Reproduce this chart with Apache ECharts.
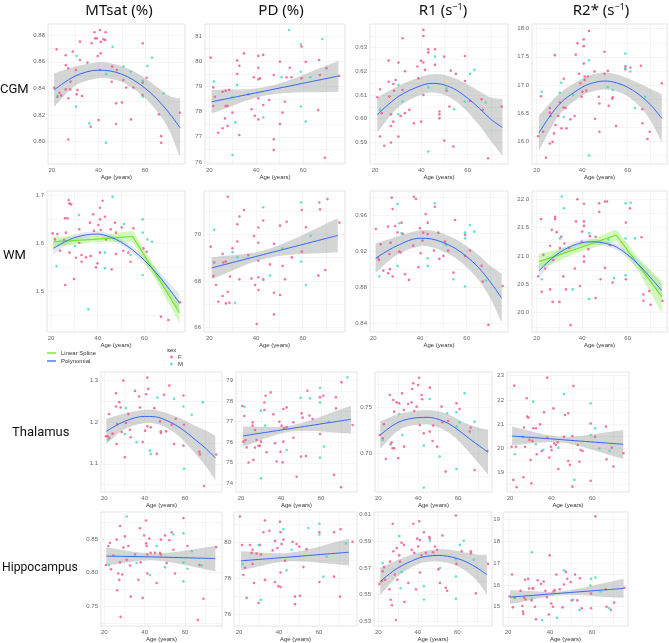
<!DOCTYPE html>
<html>
<head>
<meta charset="utf-8">
<script src="https://cdn.jsdelivr.net/npm/echarts@6/dist/echarts.min.js"></script>
<style>html,body{margin:0;padding:0;background:#fff}#c{width:669px;height:643px}</style>
</head>
<body>
<div id="c"></div>
<script>
// ---------------- DATA ----------------
const columns = ['MTsat (%)', 'PD (%)', 'R1 (s{sup|−1})', 'R2* (s{sup|−1})'];
const regions = ['CGM', 'WM', 'Thalamus', 'Hippocampus'];
const xTickLabels = ['20', '40', '60'];
const polyAges = [21, 30, 40, 45, 50, 55, 60, 65, 70, 75];
const linAges = [21, 45, 75];
const splineAges = [21, 38, 55, 65, 75];

// CGM MTsat
const cgmMtsatF = [[21,0.8405],[22.1,0.8694],[22.4,0.8337],[23.3,0.8367],[24,0.8347],[26,0.8574],[26,0.8649],[26,0.8392],[27.1,0.8551],[27.1,0.8325],[27.9,0.8392],[28.1,0.845],[27.1,0.8015],[29,0.8677],[30.4,0.8538],[31,0.8387],[30.7,0.8355],[32.1,0.8614],[32.1,0.8752],[33,0.8342],[35.3,0.8594],[37.1,0.874],[36.7,0.8111],[38.3,0.8823],[38.6,0.8777],[39.3,0.8777],[39.7,0.8644],[40.1,0.8161],[40.7,0.884],[41,0.875],[41,0.8664],[40.7,0.8538],[42.1,0.877],[43.1,0.8823],[42.9,0.8765],[45.9,0.8564],[45.7,0.845],[47.6,0.8287],[47.6,0.8131],[47.9,0.8538],[50.1,0.8294],[50.7,0.8463],[51.9,0.8407],[54,0.8166],[55,0.8407],[59,0.874],[59,0.8443],[58.9,0.835],[60.7,0.848],[65.9,0.8204],[66.9,0.804],[66.9,0.799],[75,0.8216]];
const cgmMtsatM = [[22.4,0.8342],[30.7,0.8644],[30.4,0.8262],[36.1,0.8136],[46.1,0.8714],[43.3,0.8508],[43.3,0.799],[50.7,0.8564],[53.9,0.8526],[59,0.8458],[59,0.8337],[61,0.8569],[63,0.8631],[67.9,0.8362]];
const cgmMtsatFit = [0.8387,0.8492,0.8537,0.8531,0.8507,0.8463,0.8401,0.8321,0.8221,0.8103];
const cgmMtsatHi = [0.8512,0.8564,0.8597,0.8589,0.8567,0.8529,0.8477,0.8413,0.8346,0.8323];
const cgmMtsatLo = [0.8262,0.842,0.8477,0.8473,0.8447,0.8397,0.8325,0.8229,0.8096,0.7883];
const cgmMtsatTicks = ['0.80','0.82','0.84','0.86','0.88'];

// CGM PD
const cgmPdF = [[20.6,80.14],[21.7,78.96],[21.7,78.22],[22.4,78.59],[23.8,77.16],[25.7,78.79],[25.7,77.34],[27,78.83],[27,78.22],[27.8,78.22],[27.8,77.43],[28.5,78.86],[26.7,77.73],[29.9,77.96],[31.9,80.03],[31.9,79.49],[32.8,79.82],[32.8,77.07],[34.8,80.31],[36.6,78.69],[38,78.09],[39,79.36],[39.4,77.83],[40.9,80.21],[40.9,79.74],[40.9,79.28],[40.9,78.53],[40.9,77.69],[41.6,79.32],[43,80.25],[43,78.26],[45.5,78.46],[47.5,79.45],[47.5,76.9],[47.5,76.48],[50.1,79.98],[50.1,77.51],[51.2,77.96],[52.2,78.39],[52.9,79.36],[54.3,79.74],[55,79.36],[59.3,80.58],[59.3,79.32],[61.1,79.98],[66.8,80.05],[66.4,78.06],[67.1,79.45],[69.2,76.17],[69.9,79.72],[75.3,79.41]];
const cgmPdM = [[22,79.19],[29.9,78.57],[31.1,77.57],[31.9,79.06],[29.9,76.28],[36.6,78.7],[43,77.77],[50.8,79.36],[54,81.24],[59,80.67],[59,79.58],[59,78.2],[61.1,77.6],[63.1,79.36],[68.1,80.88]];
const cgmPdFit = [78.39,78.84,79.41];
const cgmPdHi = [78.86,79.0,80.01];
const cgmPdLo = [77.93,78.66,78.79];
const cgmPdTicks = ['76','77','78','79','80','81'];

// CGM R1
const cgmR1F = [[21,0.609],[22.2,0.6124],[22.2,0.5924],[22.9,0.6023],[24,0.5885],[25.9,0.6245],[25.9,0.6156],[26.2,0.6093],[26.9,0.6018],[26.9,0.5969],[26.9,0.5899],[27.9,0.6146],[28.2,0.6118],[27.9,0.5987],[28.9,0.6163],[30.1,0.6237],[30.1,0.5924],[31.1,0.6011],[31.9,0.634],[31.9,0.6121],[32.9,0.62],[32.9,0.6023],[34.8,0.6037],[36.8,0.598],[38.3,0.622],[38.7,0.617],[39.9,0.6244],[39.9,0.5987],[40.9,0.6375],[40.9,0.6349],[40.9,0.6237],[40.9,0.61],[41.6,0.6206],[43,0.6293],[43,0.628],[45.9,0.6293],[45.9,0.6227],[47.8,0.603],[47.8,0.6018],[47.8,0.6001],[49.9,0.6262],[49.9,0.5907],[50.9,0.6118],[52.1,0.6051],[52.7,0.6203],[53.8,0.5882],[54.9,0.6189],[58.8,0.6265],[58.8,0.6159],[61,0.6075],[66,0.6082],[66.5,0.6037],[68.8,0.5832],[74.7,0.6051]];
const cgmR1M = [[22.2,0.6037],[30.1,0.6142],[31.9,0.6072],[30.1,0.6018],[43,0.6132],[43,0.5861],[45.9,0.6262],[50.9,0.6128],[54.1,0.6039],[58.8,0.6072],[61,0.6189],[62.9,0.6206],[67.8,0.6068]];
const cgmR1Fit = [0.6016,0.6093,0.614,0.6149,0.6142,0.6121,0.6086,0.6044,0.5997,0.5963];
const cgmR1Hi = [0.6089,0.6138,0.6178,0.6188,0.6184,0.6169,0.6144,0.6116,0.6089,0.6083];
const cgmR1Lo = [0.5943,0.6048,0.6102,0.611,0.61,0.6073,0.6028,0.5972,0.5905,0.5843];
const cgmR1Ticks = ['0.59','0.60','0.61','0.62','0.63'];

// CGM R2*
const cgmR2F = [[20.7,16.09],[21.9,16.8],[22.9,16.17],[24.1,15.71],[25.8,16.59],[25.8,16.51],[26.1,16.45],[25.8,15.96],[27,15.99],[27.6,16.14],[28,17.53],[28.3,16.29],[29.5,16.45],[30.2,16.69],[30.9,16.23],[31.9,16.6],[31.9,17.11],[32.7,16.59],[33.1,16.23],[34.8,16.39],[36.7,16.45],[37.2,17.54],[37.9,17.74],[38.6,17.2],[39.2,17.03],[39.8,16.79],[40.1,16.88],[40.7,17.81],[40.7,17.69],[40.7,17.38],[41.1,17.15],[41.1,17.09],[41.8,16.9],[42.5,17.15],[43,17.96],[45.5,17.24],[45.7,16.4],[47.3,16.79],[47.6,16.67],[47.6,16.17],[49.8,17.59],[49.8,17.2],[51.3,17.25],[51.7,16.63],[53.2,16.76],[53.5,16.78],[54.9,16.27],[59,17.33],[59,17.28],[61.2,17.31],[65.8,17.34],[66.5,16.57],[66.5,16.32],[68.7,16.04],[69.7,16.17],[75,17.03]];
const cgmR2M = [[22.2,16.88],[30.2,16.86],[30.8,17.04],[31.9,16.43],[36,16.82],[43,17.44],[43,15.75],[51.3,16.96],[53.5,16.91],[59,17.56],[59,17.3],[61.2,17.24],[63.2,16.59],[67.7,16.79]];
const cgmR2Fit = [16.15,16.66,16.96,17.04,17.07,17.04,16.96,16.83,16.65,16.41];
const cgmR2Hi = [16.46,16.85,17.11,17.19,17.22,17.19,17.12,17.03,16.93,16.84];
const cgmR2Lo = [15.84,16.47,16.81,16.89,16.92,16.89,16.8,16.63,16.37,15.98];
const cgmR2Ticks = ['16.0','16.5','17.0','17.5','18.0'];

// WM MTsat
const wmMtsatF = [[20.7,1.6215],[21.7,1.609],[22.7,1.62],[23.9,1.5854],[25.6,1.6076],[26,1.6528],[26.1,1.5139],[26.4,1.623],[27.1,1.6528],[27.6,1.691],[27.9,1.684],[28.6,1.682],[27.9,1.5813],[29.9,1.5264],[30.7,1.5708],[32.1,1.6299],[32.1,1.602],[33.1,1.5625],[33.1,1.5764],[35,1.5715],[36.7,1.6438],[37,1.5743],[38.1,1.6611],[38.4,1.6271],[39.3,1.5507],[39.9,1.559],[40.3,1.6389],[41,1.675],[41,1.6507],[41,1.5813],[41.3,1.6285],[42.1,1.6896],[43.1,1.6563],[43.6,1.609],[45.6,1.6299],[46,1.5465],[47.4,1.6438],[47.9,1.5785],[47.9,1.623],[50.3,1.634],[51,1.5854],[53.1,1.5813],[54.1,1.5625],[55.3,1.632],[59.6,1.5903],[61,1.5833],[67.1,1.4479],[70.3,1.441],[75.3,1.4778]];
const wmMtsatM = [[22.4,1.5535],[30.3,1.5951],[32,1.6597],[36,1.4632],[43.1,1.5813],[43.1,1.5486],[46.4,1.6979],[51.3,1.641],[54.1,1.5764],[59.3,1.6507],[59.3,1.623],[59.3,1.5347],[61.3,1.609],[63.3,1.6042]];
const wmMtsatFit = [1.5903,1.6125,1.6201,1.6145,1.6035,1.5868,1.5655,1.5395,1.5095,1.4771];
const wmMtsatHi = [1.6023,1.6195,1.6261,1.6205,1.6095,1.5938,1.5735,1.5495,1.5225,1.4951];
const wmMtsatLo = [1.5783,1.6055,1.6141,1.6085,1.5975,1.5798,1.5575,1.5295,1.4965,1.4591];
const wmMtsatSpline = [1.604,1.609,1.615,1.536,1.456];
const wmMtsatSplineHi = [1.615,1.615,1.627,1.548,1.477];
const wmMtsatSplineLo = [1.593,1.603,1.603,1.524,1.435];
const wmMtsatTicks = ['1.5','1.6','1.7'];

// WM PD
const wmPdF = [[20.6,69.47],[21.7,68.21],[22.1,68.79],[22.9,67.83],[23.9,67.11],[25.7,69.16],[25.7,67.36],[26,68.79],[27,68.83],[27.1,67.04],[27.9,71.61],[27.9,67.54],[28.6,67.07],[28.9,68.19],[29.9,69.4],[32,70.43],[32,69.69],[32.9,70.76],[32.9,68.07],[34.9,71.04],[36.7,69.11],[38.1,68.11],[39.1,69.93],[39.6,67.83],[40.3,66.16],[41,70.29],[41,69.64],[41,68.87],[41,68.16],[41.1,67.61],[43.1,70.59],[43.1,68.07],[46,68.71],[47.7,69.59],[47.7,67.5],[47.7,66.57],[50.3,70.37],[50.3,67.4],[51.4,68.64],[52.4,68.07],[53.1,70.54],[55.3,69.01],[59.6,71.04],[59.6,69.26],[61.4,70.3],[66.7,68.23],[67.1,71.36],[67.4,71.07],[69.6,68.47],[70.6,71.51],[75.7,70.5]];
const wmPdM = [[22.1,70.19],[30,69.23],[31,67.07],[32,69.01],[43.1,71.16],[43.1,68.04],[46,68.23],[51.4,69.4],[59.3,71.36],[59.3,68.83],[61.4,67.83],[63.4,69.93]];
const wmPdFit = [68.56,69.18,69.95];
const wmPdHi = [69.01,69.36,70.69];
const wmPdLo = [68.08,68.99,69.23];
const wmPdTicks = ['66','68','70'];

// WM R1
const wmR1F = [[21.1,0.9445],[22.1,0.912],[22.4,0.9101],[23.1,0.9275],[24.3,0.8983],[26.4,0.8954],[26.4,0.9471],[26.9,0.9168],[27.1,0.8999],[27.4,0.9293],[27.9,0.9792],[28.3,0.9666],[28.3,0.8917],[29.3,0.9478],[30.4,0.9408],[31.1,0.9194],[31.7,0.9183],[32.1,0.9515],[32.6,0.939],[33.6,0.8943],[35.3,0.888],[37.1,0.926],[37.4,0.9803],[38.3,0.9777],[39.3,0.902],[40,0.9452],[40.3,0.9175],[41.1,0.9316],[41.4,0.9404],[42.4,0.9611],[43.3,0.9389],[43.3,0.9515],[46,0.9205],[46.4,0.9692],[47.9,0.9404],[48.3,0.9113],[50,0.9146],[50.7,0.9305],[52.1,0.9205],[54.3,0.8961],[55,0.9545],[59.3,0.9378],[59.3,0.9146],[61.4,0.9205],[66.4,0.9035],[66.9,0.8861],[69.3,0.8381],[75.4,0.8813]];
const wmR1M = [[22.6,0.8917],[30.4,0.9722],[31.1,0.9508],[32.1,0.9397],[30.4,0.9035],[43.3,0.912],[43.3,0.9035],[46.4,0.9729],[51.1,0.9268],[54.3,0.8887],[59.3,0.9404],[59.3,0.9341],[59.3,0.8806],[61.4,0.9489],[63.3,0.9415],[68.3,0.8873]];
const wmR1Fit = [0.912,0.9257,0.9342,0.9334,0.9293,0.9231,0.9138,0.902,0.8861,0.8677];
const wmR1Hi = [0.9283,0.9359,0.943,0.9426,0.9391,0.9337,0.9256,0.9158,0.9039,0.8947];
const wmR1Lo = [0.8957,0.9155,0.9254,0.9242,0.9195,0.9125,0.902,0.8882,0.8683,0.8407];
const wmR1Ticks = ['0.84','0.88','0.92','0.96'];

// WM R2*
const wmR2F = [[20.7,20.64],[21.9,21.65],[22.2,20.37],[22.9,21.02],[23.7,20.78],[25.9,21.18],[25.9,20.41],[26.6,21.46],[27,20.19],[27.3,20.93],[28.1,21.65],[28.1,21.69],[28.8,21.42],[30,20.19],[30.2,21.14],[30.8,21.34],[31.7,20.64],[32.2,21.22],[32.9,20.41],[34.3,21.14],[34.9,19.78],[36.8,20.78],[37.3,21.61],[37.9,22.0],[39,20.47],[39.8,21.25],[40,21.43],[40.8,21.53],[40.8,21.61],[40.8,20.99],[40.8,20.9],[40.8,21.92],[42.7,21.12],[43.4,21.35],[45.9,21.34],[45.9,20.26],[47.5,21.93],[47.5,21.78],[48.1,20.59],[50,21.96],[51,21.96],[50,20.79],[52.2,21.19],[53.4,20.53],[59.2,21.59],[59.2,20.59],[61,21.84],[66.1,21.33],[66.9,20.32],[66.9,20.21],[70.1,20.14],[69.5,20.38],[75.3,20.21]];
const wmR2M = [[22.2,20.59],[30.2,21.31],[31,22.05],[32,21.84],[35.8,20.41],[43.1,20.24],[43.1,21.4],[51.5,21.29],[54,20.61],[59.1,21.93],[59.1,21.31],[59.1,20.66],[61.3,21.94],[63.2,21.31]];
const wmR2Fit = [20.74,21.06,21.235,21.25,21.225,21.16,21.02,20.84,20.62,20.39];
const wmR2Hi = [20.85,21.12,21.285,21.3,21.275,21.215,21.085,20.92,20.72,20.52];
const wmR2Lo = [20.63,21.0,21.185,21.2,21.175,21.105,20.955,20.76,20.52,20.26];
const wmR2Spline = [20.9,21.13,21.37,20.83,20.28];
const wmR2SplineHi = [21.04,21.2,21.47,20.95,20.56];
const wmR2SplineLo = [20.76,21.06,21.27,20.71,20.0];
const wmR2Ticks = ['20.0','20.5','21.0','21.5','22.0'];

// Thalamus MTsat
const thMtsatF = [[20.8,1.1659],[21.7,1.1659],[22.3,1.219],[22.5,1.1619],[24.1,1.1722],[25.8,1.269],[25.8,1.2373],[26.1,1.1476],[26.4,1.1952],[27.4,1.2476],[28.1,1.2349],[28.6,1.1762],[29.4,1.2992],[30.2,1.1159],[30.7,1.1976],[31.9,1.219],[32.7,1.1817],[33.1,1.1635],[35.2,1.2746],[37.2,1.2611],[37.7,1.2349],[39,1.1524],[40.2,1.1794],[40.7,1.2667],[41.3,1.3063],[41.3,1.1897],[41.8,1.2794],[43,1.1873],[44.8,1.2333],[46,1.1238],[47.6,1.2016],[48,1.1738],[48,1.1778],[49.6,1.2651],[50.6,1.1778],[52.2,1.2873],[53.4,1.1937],[54.5,1.1476],[55.4,1.2079],[59.2,1.2635],[59.2,1.1437],[59.5,1.1937],[67.1,1.1286],[67.4,1.1222],[69.4,1.0468],[75.4,1.1222]];
const thMtsatM = [[22,1.158],[30.7,1.2333],[30.2,1.1714],[36,1.1516],[42.6,1.1317],[43,1.1238],[46.3,1.2587],[54.5,1.2556],[59.2,1.2373],[59.5,1.0881],[63.3,1.2175],[68.8,1.2476]];
const thMtsatFit = [1.1778,1.2016,1.2135,1.2127,1.2056,1.1937,1.1778,1.1579,1.1381,1.1143];
const thMtsatHi = [1.2078,1.2206,1.2295,1.2287,1.2226,1.2137,1.2038,1.1909,1.1801,1.1673];
const thMtsatLo = [1.1478,1.1826,1.1975,1.1967,1.1886,1.1737,1.1518,1.1249,1.0961,1.0613];
const thMtsatTicks = ['1.1','1.2','1.3'];

// Thalamus PD
const thPdF = [[20.7,77.77],[21.7,77.28],[21.2,76.03],[22.3,76.11],[22.8,75.75],[23.8,75.01],[25.8,76.97],[25.8,76.81],[26.2,75.14],[27,75.74],[27,76.6],[27.8,76.11],[28.7,75.83],[29.5,75.83],[30,76.03],[31.7,77.94],[31.7,77.57],[32.3,78.27],[32.8,75.51],[34.8,78.43],[36.2,77.36],[37,75.95],[37.8,75.06],[39.2,77],[39.8,75.54],[40.3,76.81],[40.8,75.02],[41.2,77.62],[41.2,76.03],[41.5,76.68],[42.8,77.7],[42.8,76.73],[46.2,76.22],[46.2,76.97],[47.8,74.32],[50.3,77.41],[50,75.3],[50.8,77.2],[52.5,75.33],[53.2,78.51],[54.2,77.3],[55.8,77.13],[59.5,78.19],[59.5,76.4],[61.2,78.27],[66.5,74.41],[67.5,78.19],[67.5,77.65],[70,73.81],[70.3,78.92],[75.8,76.84]];
const thPdM = [[21.7,77.73],[30,77.54],[30,74.24],[32,76.81],[42.8,75.62],[49.8,78.17],[54.5,78.14],[59.5,78.66],[59.5,77.94],[59.5,75.25],[61.5,75.79],[63.8,77],[73.2,79.16]];
const thPdFit = [76.31,76.67,77.12];
const thPdHi = [76.76,76.82,77.78];
const thPdLo = [75.79,76.52,76.43];
const thPdTicks = ['74','75','76','77','78','79'];

// Thalamus R1
const thR1F = [[20.8,0.7199],[22.2,0.7163],[22.8,0.7315],[23.8,0.6938],[25.8,0.7634],[26.2,0.7098],[26.7,0.712],[27.2,0.7054],[27.5,0.758],[28,0.7453],[28,0.7054],[29.2,0.7554],[30,0.6946],[30.5,0.7543],[32,0.7652],[32.8,0.7471],[33,0.7072],[35,0.7536],[36.7,0.7554],[37,0.7699],[37.5,0.7761],[38,0.746],[39.2,0.7507],[40,0.7743],[40.5,0.7822],[40.8,0.7308],[41.7,0.7634],[42,0.7587],[42.8,0.7217],[45.8,0.7714],[45.8,0.7236],[47.2,0.7134],[47.5,0.7301],[49.5,0.7072],[51.7,0.7507],[52.2,0.7337],[53.8,0.6801],[55,0.7351],[59.2,0.7543],[60.8,0.7482],[65.8,0.7236],[66.3,0.7279],[68.3,0.6819],[74.7,0.7025]];
const thR1M = [[22.2,0.7145],[30.5,0.7428],[32,0.7199],[42.8,0.7083],[42.8,0.6627],[45.8,0.7591],[50.8,0.6964],[54.5,0.7435],[59.2,0.7446],[59.2,0.729],[59.2,0.683],[60.8,0.7337],[63.3,0.7652],[68.3,0.7344]];
const thR1Fit = [0.7199,0.7337,0.7388,0.7391,0.737,0.7326,0.7254,0.717,0.709,0.7011];
const thR1Hi = [0.7349,0.7425,0.7464,0.7469,0.7458,0.7424,0.7368,0.7315,0.728,0.7256];
const thR1Lo = [0.7049,0.7249,0.7312,0.7313,0.7282,0.7228,0.714,0.7025,0.69,0.6766];
const thR1Ticks = ['0.70','0.75'];

// Thalamus R2*
const thR2F = [[20.8,20.07],[21.6,18.7],[22.1,22.59],[22.9,20.07],[23.2,18.4],[26.2,20.48],[26.5,18.81],[26.8,20.86],[27.3,20.07],[28.1,22.07],[28.4,21.31],[28.9,21.27],[29.4,20.35],[30,19.52],[30.4,18.56],[30.9,20.31],[31.3,20.83],[32.6,20.83],[33,19.76],[34.6,20.99],[35.4,19.89],[36.5,21.49],[38.1,22.92],[38.1,20.44],[39.1,19.62],[39.9,20.07],[40.2,19.93],[41.1,21.65],[41.5,20.21],[42.3,20.14],[43.2,20.25],[43.5,19.15],[46.2,20.48],[46.7,21.38],[48.3,21.45],[48.3,19.48],[49.1,19.32],[50.3,20.51],[50.8,22.57],[50.3,18.42],[52.9,20.14],[53.7,19.45],[54.3,19.93],[55.3,19.89],[59.2,21.03],[59.2,18.66],[61.3,20.48],[66.6,20.9],[66.9,19.55],[69.4,20.03],[70.2,19.25],[75.1,19.8]];
const thR2M = [[22.4,19.76],[31.3,21.93],[32.5,20.17],[36.2,19.93],[43.5,20.03],[46.2,22.24],[51.3,18.7],[59.2,21.86],[59.2,20.55],[61.3,20.83],[63.4,20],[68.3,19.89]];
const thR2Fit = [20.51,20.36,20.17];
const thR2Hi = [20.9,20.48,20.76];
const thR2Lo = [20.14,20.24,19.56];
const thR2Ticks = ['19','20','21','22','23'];

// Hippocampus MTsat
const hpMtsatF = [[20.8,0.8116],[22,0.84],[22.8,0.8448],[23.3,0.805],[24.5,0.8258],[26.1,0.8495],[26.4,0.7737],[26.9,0.7988],[27.4,0.7893],[27.8,0.8699],[27.8,0.8154],[28.1,0.7339],[28.9,0.7974],[29.4,0.8377],[30.2,0.8543],[31.1,0.8192],[31.9,0.84],[32.7,0.8107],[33.1,0.7642],[35.2,0.8273],[36.9,0.7893],[37.7,0.8666],[38,0.8154],[39,0.7623],[39.7,0.8557],[40.7,0.878],[40.7,0.8438],[41,0.84],[41.3,0.8273],[41.3,0.7988],[42.3,0.8509],[43,0.8296],[45.1,0.8296],[45.9,0.7846],[47.6,0.8296],[48,0.8495],[48,0.8273],[50.1,0.8557],[50.9,0.8145],[52.2,0.8486],[53.4,0.8604],[54.2,0.8344],[55,0.7988],[59.2,0.8818],[61.2,0.84],[67.1,0.8116],[66.3,0.7291],[69.1,0.7609],[75.4,0.8382]];
const hpMtsatM = [[22.3,0.8116],[31.1,0.8841],[36,0.8145],[42.6,0.7964],[45.9,0.84],[50.1,0.8083],[54.2,0.8571],[59.2,0.859],[59.2,0.8154],[59.2,0.787],[61.2,0.8059],[63.3,0.832],[68.3,0.8107]];
const hpMtsatFit = [0.8249,0.8235,0.8211];
const hpMtsatHi = [0.8377,0.8288,0.84];
const hpMtsatLo = [0.8107,0.8183,0.8021];
const hpMtsatTicks = ['0.75','0.80','0.85'];

// Hippocampus PD
const hpPdF = [[20.5,81.43],[21.5,79.84],[22.2,78.17],[23,78.57],[23.8,76.9],[25.5,79.84],[26.3,79.4],[26.8,79.58],[26.8,78.78],[27.5,77.73],[28.8,79.37],[29.8,76.62],[30.5,79.84],[31,79.31],[32.2,80.55],[33,77.9],[33,81.2],[35.2,80.63],[36.8,79.54],[38,80.07],[38,77.78],[39.2,79.67],[39.7,77.55],[40.5,81.13],[40.8,80.55],[40.8,78.31],[40.8,77.5],[41.3,79.89],[42.2,80.14],[43,78.96],[46.8,80.02],[48,76.97],[48,76.55],[48.8,79.89],[50.2,79.75],[50.5,77.02],[52.2,78.61],[53.8,79.61],[60.2,80.55],[60.2,77.78],[67.5,80.55],[67.5,78.08],[70.8,80.72],[70.5,76.97],[76.8,80.02]];
const hpPdM = [[21.7,78.78],[29.8,79.84],[31,76.79],[42.2,80.72],[43.8,78.43],[46.3,79.58],[54.7,80.78],[60.2,81.02],[60.2,80.42],[62.2,78.08],[63.8,79.19],[73.5,79.93]];
const hpPdFit = [78.96,79.17,79.44];
const hpPdHi = [79.49,79.41,80.19];
const hpPdLo = [78.43,78.93,78.7];
const hpPdTicks = ['76','78','80'];

// Hippocampus R1
const hpR1F = [[20.5,0.5581],[21.7,0.56],[22.2,0.5676],[22.9,0.5707],[23.4,0.5612],[25.6,0.554],[25.9,0.5748],[26.2,0.5462],[26.9,0.5421],[27.3,0.6033],[27.6,0.5826],[28.4,0.5652],[28.9,0.531],[29.3,0.585],[29.6,0.5612],[30.6,0.5795],[31,0.5748],[31.8,0.589],[33,0.5874],[33.2,0.5445],[35.2,0.5588],[36.9,0.5838],[37.7,0.6033],[38.2,0.5814],[39.1,0.554],[39.7,0.5921],[40.2,0.5862],[40.7,0.6052],[41.1,0.591],[41.1,0.5667],[41.9,0.5795],[43.1,0.5969],[44.1,0.5814],[45.8,0.5933],[46.1,0.5921],[47.8,0.5819],[48.7,0.5862],[49.8,0.5838],[50.4,0.569],[51.2,0.5588],[52.5,0.5945],[54.2,0.5552],[54.9,0.5529],[59.3,0.6095],[59.6,0.5731],[62.2,0.5826],[66.9,0.5812],[66.9,0.5826],[69.4,0.551],[75.6,0.5731]];
const hpR1M = [[22.2,0.5738],[30.6,0.594],[31.3,0.5548],[31.8,0.5671],[43.1,0.5564],[43.1,0.5464],[46.1,0.5905],[51.2,0.57],[59.3,0.5767],[59.3,0.5636],[59.3,0.5469],[61.3,0.5874],[63.3,0.5905],[68.4,0.5762]];
const hpR1Fit = [0.56,0.5702,0.5772,0.5789,0.5795,0.5789,0.5772,0.5743,0.5702,0.565];
const hpR1Hi = [0.5702,0.5762,0.5815,0.5832,0.5841,0.5839,0.5829,0.5815,0.58,0.5798];
const hpR1Lo = [0.5498,0.5642,0.5729,0.5746,0.5749,0.5739,0.5715,0.5671,0.5604,0.5502];
const hpR1Ticks = ['0.53','0.55','0.57','0.59','0.61'];

// Hippocampus R2*
const hpR2F = [[20.8,15.47],[21.9,16.48],[22.3,14.97],[23.2,15.41],[26,15.73],[26.8,15.03],[27.1,14.78],[27.3,14.67],[27.6,15.41],[28.1,16.24],[28.4,15.33],[29.6,16.28],[30,15.84],[31.2,15.29],[31.7,15.84],[32.1,15.84],[32.8,15.0],[33.3,14.42],[34.1,16.21],[35.7,16.05],[37,16.16],[37.8,15.73],[38.5,15.44],[39.4,14.64],[39.8,17.36],[40.6,15.15],[41.4,15.0],[41.7,15.7],[42.2,15.76],[43,16.48],[44.6,15.8],[45.9,14.97],[46.6,16.02],[47.5,16.6],[48.2,16.28],[49.8,16.13],[50.3,15.29],[51.9,16.48],[53,15.29],[54.3,16.31],[55.1,14.93],[59.5,14.93],[59.5,15.61],[61.6,19.15],[66.5,15.8],[66.9,15.0],[68.9,14.85],[70.5,15.19],[75.4,15.87]];
const hpR2M = [[23.2,15.44],[31.3,17.5],[31.3,15.36],[36.2,14.39],[43.3,14.49],[46.6,16.67],[51.1,15.32],[54,14.85],[59.5,16.28],[59.2,15.97],[61.6,16.34],[64,15.7],[68.1,14.93]];
const hpR2Fit = [15.44,15.62,15.84];
const hpR2Hi = [15.77,15.71,16.28];
const hpR2Lo = [15.12,15.53,15.41];
const hpR2Ticks = ['15','16','17','18','19'];

// ---------------- LAYOUT ----------------
const panels = [
  {F:cgmMtsatF,M:cgmMtsatM,xs:polyAges,fit:cgmMtsatFit,hi:cgmMtsatHi,lo:cgmMtsatLo,ticks:cgmMtsatTicks,g:[48,24,137,140],x:[18.4,77.1],y:[0.783,0.8885]},
  {F:cgmPdF,M:cgmPdM,xs:linAges,fit:cgmPdFit,hi:cgmPdHi,lo:cgmPdLo,ticks:cgmPdTicks,g:[205,24,140,140],x:[18.2,77.8],y:[75.92,81.476]},
  {F:cgmR1F,M:cgmR1M,xs:polyAges,fit:cgmR1Fit,hi:cgmR1Hi,lo:cgmR1Lo,ticks:cgmR1Ticks,g:[370,24,138,140],x:[17.84,77.4],y:[0.5808,0.64]},
  {F:cgmR2F,M:cgmR2M,xs:polyAges,fit:cgmR2Fit,hi:cgmR2Hi,lo:cgmR2Lo,ticks:cgmR2Ticks,g:[532,24,135,140],x:[17.95,77.3],y:[15.597,18.083]},
  {F:wmMtsatF,M:wmMtsatM,xs:polyAges,fit:wmMtsatFit,hi:wmMtsatHi,lo:wmMtsatLo,ticks:wmMtsatTicks,g:[47,191,138,141],x:[18.29,77.4],y:[1.416,1.7098],
    spline:{fit:wmMtsatSpline,hi:wmMtsatSplineHi,lo:wmMtsatSplineLo}},
  {F:wmPdF,M:wmPdM,xs:linAges,fit:wmPdFit,hi:wmPdHi,lo:wmPdLo,ticks:wmPdTicks,g:[204,191,141,141],x:[17.73,78.1],y:[65.816,71.854]},
  {F:wmR1F,M:wmR1M,xs:polyAges,fit:wmR1Fit,hi:wmR1Hi,lo:wmR1Lo,ticks:wmR1Ticks,g:[370,191,138,141],x:[18.59,77.7],y:[0.8302,0.9866]},
  {F:wmR2F,M:wmR2M,xs:polyAges,fit:wmR2Fit,hi:wmR2Hi,lo:wmR2Lo,ticks:wmR2Ticks,g:[532,191,135,141],x:[17.93,77.3],y:[19.659,22.146],
    spline:{fit:wmR2Spline,hi:wmR2SplineHi,lo:wmR2SplineLo}},
  {F:thMtsatF,M:thMtsatM,xs:polyAges,fit:thMtsatFit,hi:thMtsatHi,lo:thMtsatLo,ticks:thMtsatTicks,g:[101,372,121,120],x:[18.36,78.3],y:[1.0326,1.3198]},
  {F:thPdF,M:thPdM,xs:linAges,fit:thPdFit,hi:thPdHi,lo:thPdLo,ticks:thPdTicks,g:[236,372,121,120],x:[17.5,78],y:[73.576,79.424]},
  {F:thR1F,M:thR1M,xs:polyAges,fit:thR1Fit,hi:thR1Hi,lo:thR1Lo,ticks:thR1Ticks,g:[375,372,117,120],x:[18.35,77],y:[0.6579,0.7884]},
  {F:thR2F,M:thR2M,xs:linAges,fit:thR2Fit,hi:thR2Hi,lo:thR2Lo,ticks:thR2Ticks,g:[507,372,122,120],x:[18.54,77.8],y:[18.2,23.153]},
  {F:hpMtsatF,M:hpMtsatM,xs:linAges,fit:hpMtsatFit,hi:hpMtsatHi,lo:hpMtsatLo,ticks:hpMtsatTicks,g:[101,512,121,120],x:[18.36,78.3],y:[0.7201,0.8908]},
  {F:hpPdF,M:hpPdM,xs:linAges,fit:hpPdFit,hi:hpPdHi,lo:hpPdLo,ticks:hpPdTicks,g:[234,512,123,120],x:[17.5,79],y:[75.328,81.677]},
  {F:hpR1F,M:hpR1M,xs:polyAges,fit:hpR1Fit,hi:hpR1Hi,lo:hpR1Lo,ticks:hpR1Ticks,g:[374,512,118,120],x:[17.8,77.6],y:[0.5264,0.6121]},
  {F:hpR2F,M:hpR2M,xs:linAges,fit:hpR2Fit,hi:hpR2Hi,lo:hpR2Lo,ticks:hpR2Ticks,g:[503,512,125,120],x:[17.6,77.1],y:[14.11,19.35]}
];

const PINK = '#f3528a', CYAN = '#3ddbbf', BLUE = '#3366ff', GREEN = '#6be61f';
const GRAYBAND = 'rgba(150,158,156,0.42)', GREENBAND = 'rgba(130,235,70,0.35)', BLUEBAND = 'rgba(150,170,205,0.28)';
const AXFONT = 'Liberation Sans';

// smooth path (cubic Hermite in x) through pixel points produced by the axes
function curveSeg(pts, smooth) {
  let d = '';
  const n = pts.length;
  if (!smooth) { for (let k = 1; k < n; k++) d += ' L' + pts[k][0] + ',' + pts[k][1]; return d; }
  const s = pts.map((p, k) => { const a = pts[Math.max(k - 1, 0)], b = pts[Math.min(k + 1, n - 1)]; return (b[1] - a[1]) / (b[0] - a[0]); });
  for (let k = 0; k < n - 1; k++) {
    const p1 = pts[k], p2 = pts[k + 1], dx = p2[0] - p1[0];
    d += ' C' + (p1[0] + dx / 3) + ',' + (p1[1] + s[k] * dx / 3) + ' ' + (p2[0] - dx / 3) + ',' + (p2[1] - s[k + 1] * dx / 3) + ' ' + p2[0] + ',' + p2[1];
  }
  return d;
}

const grids = [], xAxes = [], yAxes = [], series = [];
panels.forEach((p, i) => {
  grids.push({left:p.g[0], top:p.g[1], width:p.g[2], height:p.g[3], show:true, borderColor:'#dedede', borderWidth:0.8, backgroundColor:'#fff'});
  const xMinor = [20,30,40,50,60,70];
  xAxes.push({type:'value', gridIndex:i, min:p.x[0], max:p.x[1], name:'Age (years)', nameLocation:'middle', nameGap:8,
    nameTextStyle:{fontSize:6, color:'#333', fontFamily:AXFONT},
    axisLine:{show:false}, axisTick:{show:false, customValues:xMinor},
    axisLabel:{customValues:xTickLabels.map(Number), fontSize:6, color:'#666', margin:3, fontFamily:AXFONT},
    splitLine:{show:true, lineStyle:{color:'#efefef', width:0.6}}});
  const tv = p.ticks.map(Number);
  const step = tv.length > 1 ? tv[1]-tv[0] : 0.05;
  const dec = (p.ticks[0].split('.')[1] || '').length;
  const yGrid = [];
  for (let k = -1; k < tv.length; k++) { const b = tv[0] + k*step; yGrid.push(+b.toFixed(6)); yGrid.push(+(b+step/2).toFixed(6)); }
  yAxes.push({type:'value', gridIndex:i, min:p.y[0], max:p.y[1],
    axisLine:{show:false}, axisTick:{show:false, customValues:yGrid},
    axisLabel:{customValues:tv, fontSize:6, color:'#666', margin:3, fontFamily:AXFONT, formatter:v=>v.toFixed(dec)},
    splitLine:{show:true, lineStyle:{color:'#efefef', width:0.6}}});
  const band = (xs, lo, hi, color, smooth, z) => {
    series.push({type:'custom', xAxisIndex:i, yAxisIndex:i, silent:true, clip:true, z, animation:false,
      data:[[xs[0], lo[0]]],
      renderItem:(params, api) => {
        const up = xs.map((x,k)=>api.coord([x, hi[k]]));
        const dn = xs.map((x,k)=>api.coord([x, lo[k]])).reverse();
        const d = 'M' + up[0][0] + ',' + up[0][1] + curveSeg(up, smooth) + ' L' + dn[0][0] + ',' + dn[0][1] + curveSeg(dn, smooth) + ' Z';
        return {type:'path', shape:{pathData:d}, style:{fill:color, stroke:null}};
      }});
  };
  band(p.xs, p.lo, p.hi, p.spline ? BLUEBAND : GRAYBAND, true, 1);
  if (p.spline) band(splineAges, p.spline.lo, p.spline.hi, GREENBAND, false, 1);
  series.push({type:'scatter', name:'F', xAxisIndex:i, yAxisIndex:i, data:p.F, symbolSize:2.6, itemStyle:{color:PINK}, z:2, animation:false});
  series.push({type:'scatter', name:'M', xAxisIndex:i, yAxisIndex:i, data:p.M, symbolSize:2.6, itemStyle:{color:CYAN}, z:2, animation:false});
  if (p.spline) series.push({type:'line', name:'Linear Spline', xAxisIndex:i, yAxisIndex:i, data:splineAges.map((x,k)=>[x,p.spline.fit[k]]),
    symbol:'none', smooth:false, lineStyle:{color:GREEN, width:1.1}, itemStyle:{color:GREEN}, z:3, animation:false});
  series.push({type:'line', name:'Polynomial', xAxisIndex:i, yAxisIndex:i, data:p.xs.map((x,k)=>[x,p.fit[k]]),
    symbol:'none', smooth:0.35, lineStyle:{color:BLUE, width:1}, itemStyle:{color:BLUE}, z:4, animation:false});
});

const titleX = [119, 281, 443, 601];
const rowLabels = [{x:0, y:90, s:13}, {x:3, y:256, s:13}, {x:12, y:433, s:13}, {x:2, y:568, s:12.2}];
const graphic = [];
columns.forEach((t, k) => graphic.push({type:'text', x:titleX[k], y:11, style:{text:t, fontSize:15, fontFamily:'Noto Sans',
  fill:'#111', align:'center', verticalAlign:'middle', rich:{sup:{fontSize:9, fontFamily:'Noto Sans', verticalAlign:'top', padding:[0,0,7,0], fill:'#111'}}}}));
regions.forEach((r, k) => graphic.push({type:'text', x:rowLabels[k].x, y:rowLabels[k].y,
  style:{text:r, fontSize:rowLabels[k].s, fontFamily:'Roboto', fill:'#111', verticalAlign:'middle', align:'left'}}));
graphic.push({type:'text', x:167, y:350, style:{text:'sex', fontSize:6, fontFamily:AXFONT, fill:'#333', verticalAlign:'middle'}});

const chart = echarts.init(document.getElementById('c'), null, {renderer:'canvas'});
chart.setOption({
  animation:false,
  backgroundColor:'#fff',
  grid:grids, xAxis:xAxes, yAxis:yAxes, series,
  graphic,
  legend:[
    {data:[{name:'Linear Spline', icon:'rect'},{name:'Polynomial', icon:'rect'}], orient:'vertical', left:47, top:350, padding:0,
     itemWidth:9, itemHeight:1.3, itemGap:2, selectedMode:false, textStyle:{fontSize:6, lineHeight:6, color:'#333', fontFamily:AXFONT}},
    {data:[{name:'F', icon:'circle'},{name:'M', icon:'circle'}], orient:'vertical', left:170, top:354, padding:0,
     itemWidth:3, itemHeight:3, itemGap:1, selectedMode:false, textStyle:{fontSize:6, lineHeight:6, color:'#333', fontFamily:AXFONT}}
  ]
});
</script>
</body>
</html>
